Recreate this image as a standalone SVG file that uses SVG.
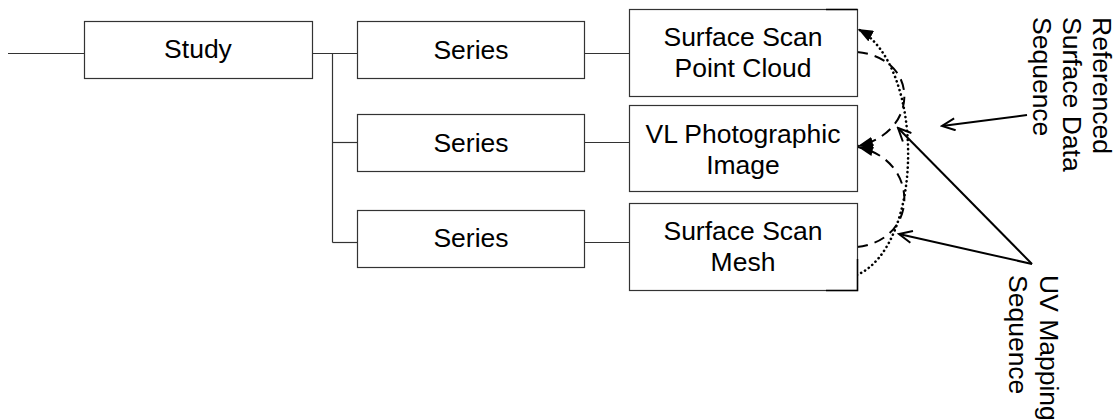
<svg xmlns="http://www.w3.org/2000/svg" width="1120" height="419" viewBox="0 0 1120 419">
  <style>
    .box { fill: #ffffff; stroke: #333333; stroke-width: 1.2; }
    .lbl { font-family: "Liberation Sans", Arial, sans-serif; font-size: 26.5px; fill: #000000; text-anchor: middle; }
    .side { font-family: "Liberation Sans", Arial, sans-serif; font-size: 26.5px; fill: #000000; }
    .tree { fill: none; stroke: #333333; stroke-width: 1.2; }
    .dash { fill: none; stroke: #000000; stroke-width: 2; stroke-dasharray: 11 7; }
    .dot { fill: none; stroke: #000000; stroke-width: 2.6; stroke-dasharray: 0.1 4.5; stroke-linecap: round; }
    .ptr { fill: none; stroke: #000000; stroke-width: 2; }
    .edge { fill: none; stroke: #000000; stroke-width: 1.5; }
  </style>
  <defs>
    <marker id="tri" markerUnits="userSpaceOnUse" markerWidth="16" markerHeight="12" refX="15" refY="6" orient="auto">
      <path d="M0,0 L15,6 L0,12 z" fill="#000000"/>
    </marker>
    <marker id="open" markerUnits="userSpaceOnUse" markerWidth="16" markerHeight="14" refX="14" refY="7" orient="auto">
      <path d="M1,1 L14,7 L1,13" fill="none" stroke="#000000" stroke-width="2"/>
    </marker>
  </defs>

  <g id="connectors">
    <line class="tree" x1="8" y1="53.5" x2="84.5" y2="53.5"/>
    <line class="tree" x1="312.5" y1="53.5" x2="357.5" y2="53.5"/>
    <line class="tree" x1="332.5" y1="53.5" x2="332.5" y2="242.5"/>
    <line class="tree" x1="332.5" y1="142.5" x2="357.5" y2="142.5"/>
    <line class="tree" x1="332.5" y1="242.5" x2="357.5" y2="242.5"/>
    <line class="tree" x1="584.5" y1="53.5" x2="629.5" y2="53.5"/>
    <line class="tree" x1="584.5" y1="142.5" x2="629.5" y2="142.5"/>
    <line class="tree" x1="584.5" y1="242.5" x2="629.5" y2="242.5"/>

    <path class="dot" d="M857,275 C925,245 925,65 858,29" marker-end="url(#tri)"/>
    <path class="dash" d="M857,52 C920,58 920,132 858,146" marker-end="url(#tri)"/>
    <path class="dash" d="M857,247 C920,240 920,160 858,147" marker-end="url(#tri)"/>

    <line class="ptr" x1="1027" y1="115" x2="942" y2="126" marker-end="url(#open)"/>
    <line class="ptr" x1="1032" y1="264" x2="898" y2="128" marker-end="url(#open)"/>
    <line class="ptr" x1="1032" y1="264" x2="899" y2="234" marker-end="url(#open)"/>
  </g>

  <g id="study">
    <rect class="box" x="84.5" y="21.5" width="228" height="57"/>
    <text class="lbl" x="198" y="57.5">Study</text>
  </g>
  <g id="series1">
    <rect class="box" x="357.5" y="21.5" width="227" height="57"/>
    <text class="lbl" x="471" y="59.3">Series</text>
  </g>
  <g id="series2">
    <rect class="box" x="357.5" y="114.5" width="227" height="57"/>
    <text class="lbl" x="471" y="152.3">Series</text>
  </g>
  <g id="series3">
    <rect class="box" x="357.5" y="210.5" width="227" height="57"/>
    <text class="lbl" x="471" y="247.3">Series</text>
  </g>
  <g id="pointcloud">
    <rect class="box" x="629.5" y="9.5" width="228" height="87"/>
    <text class="lbl" x="743" y="46">Surface Scan</text>
    <text class="lbl" x="743" y="77">Point Cloud</text>
    <path class="edge" d="M826,9.5 L857.5,9.5"/>
  </g>
  <g id="photo">
    <rect class="box" x="629.5" y="105.5" width="228" height="86"/>
    <text class="lbl" x="743" y="142.5">VL Photographic</text>
    <text class="lbl" x="743" y="173.5">Image</text>
  </g>
  <g id="mesh">
    <rect class="box" x="629.5" y="203.5" width="228" height="87"/>
    <text class="lbl" x="743" y="240">Surface Scan</text>
    <text class="lbl" x="743" y="270.7">Mesh</text>
    <path class="edge" d="M857.5,259 L857.5,290.5 L826,290.5"/>
  </g>

  <g id="label-referenced" transform="translate(1093,17) rotate(90)">
    <text class="side" x="0" y="0">Referenced</text>
    <text class="side" x="0" y="30">Surface Data</text>
    <text class="side" x="0" y="60">Sequence</text>
  </g>
  <g id="label-uv" transform="translate(1040,275) rotate(90)">
    <text class="side" x="0" y="0">UV Mapping</text>
    <text class="side" x="0" y="31">Sequence</text>
  </g>
</svg>
